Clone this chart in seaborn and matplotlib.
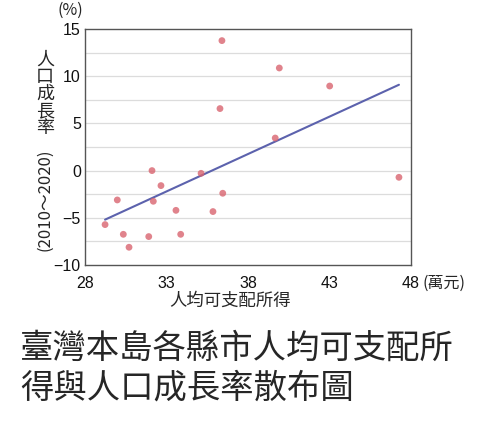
import numpy as np
import pandas as pd
import matplotlib
matplotlib.use("Agg")
import matplotlib.pyplot as plt
import seaborn as sns

# 人均可支配所得 (萬元) / 人口成長率 2010~2020 (%)
income = [29.23, 29.98, 30.35, 30.70, 31.91, 32.11, 32.19, 32.66, 33.58, 33.87,
          35.12, 35.85, 36.45, 36.40, 39.92, 43.01, 36.28, 39.67, 47.26]
growth = [-5.72, -3.11, -6.75, -8.12, -6.99, 0.00, -3.25, -1.59, -4.21, -6.75,
          -0.29, -4.34, -2.40, 13.77, 10.87, 8.96, 6.57, 3.45, -0.71]
x_ticks = [28, 33, 38, 43, 48]
y_ticks = [-10, -5, 0, 5, 10, 15]

df = pd.DataFrame({"income": income, "growth": growth})

sns.set_style("white")
plt.rcParams["font.family"] = ["Liberation Sans", "Noto Sans CJK TC", "DejaVu Sans"]
cjk = ["Noto Sans CJK TC", "DejaVu Sans"]

fig = plt.figure(figsize=(4.9, 4.29), dpi=100)
ax = fig.add_axes([0.1735, 0.3823, 0.6653, 0.5501])

# grid every 2.5
for v in np.arange(-7.5, 15, 2.5):
    ax.axhline(v, color="#dcdcdc", lw=0.9, zorder=0)

sns.regplot(data=df, x="income", y="growth", ax=ax, ci=None, truncate=True,
            scatter_kws=dict(s=24, color="#d9646f", edgecolor="none", zorder=3),
            line_kws=dict(color="#5c62ad", lw=1.5, zorder=2))

ax.set_xlim(28, 48)
ax.set_ylim(-10, 15)
ax.set_xticks(x_ticks)
ax.set_yticks(y_ticks)
ax.set_xlabel("")
ax.set_ylabel("")
ax.tick_params(axis="both", labelsize=11.5, width=0.8, direction="out",
               colors="#555555", labelcolor="#111111")
ax.tick_params(axis="x", length=4, pad=4)
ax.tick_params(axis="y", length=0, pad=3)
for s in ax.spines.values():
    s.set_color("#555555")
    s.set_linewidth(1.0)

# axis titles
fig.text(70 / 490, 1 - 10 / 429, "(%)", fontsize=11.5, ha="center", va="center",
         family=cjk)
fig.text(444 / 490, 1 - 283 / 429, "(萬元)", fontsize=11.5, ha="center", va="center",
         family=cjk)
fig.text(230 / 490, 1 - 301 / 429, "人均可支配所得", fontsize=12.5, ha="center",
         va="center", family=cjk)
for i, ch in enumerate("人口成長率"):
    fig.text(45 / 490, 1 - (60 + i * 17) / 429, ch, fontsize=13, ha="center",
             va="center", family=cjk)
fig.text(45 / 490, 1 - 200 / 429, "(2010～2020)", fontsize=12, rotation=90,
         ha="center", va="center", family=cjk)

# caption
fig.text(20 / 490, 1 - 348 / 429, "臺灣本島各縣市人均可支配所", fontsize=24,
         ha="left", va="center", family=cjk)
fig.text(20 / 490, 1 - 388 / 429, "得與人口成長率散布圖", fontsize=24,
         ha="left", va="center", family=cjk)

fig.savefig("out.png", dpi=100)
